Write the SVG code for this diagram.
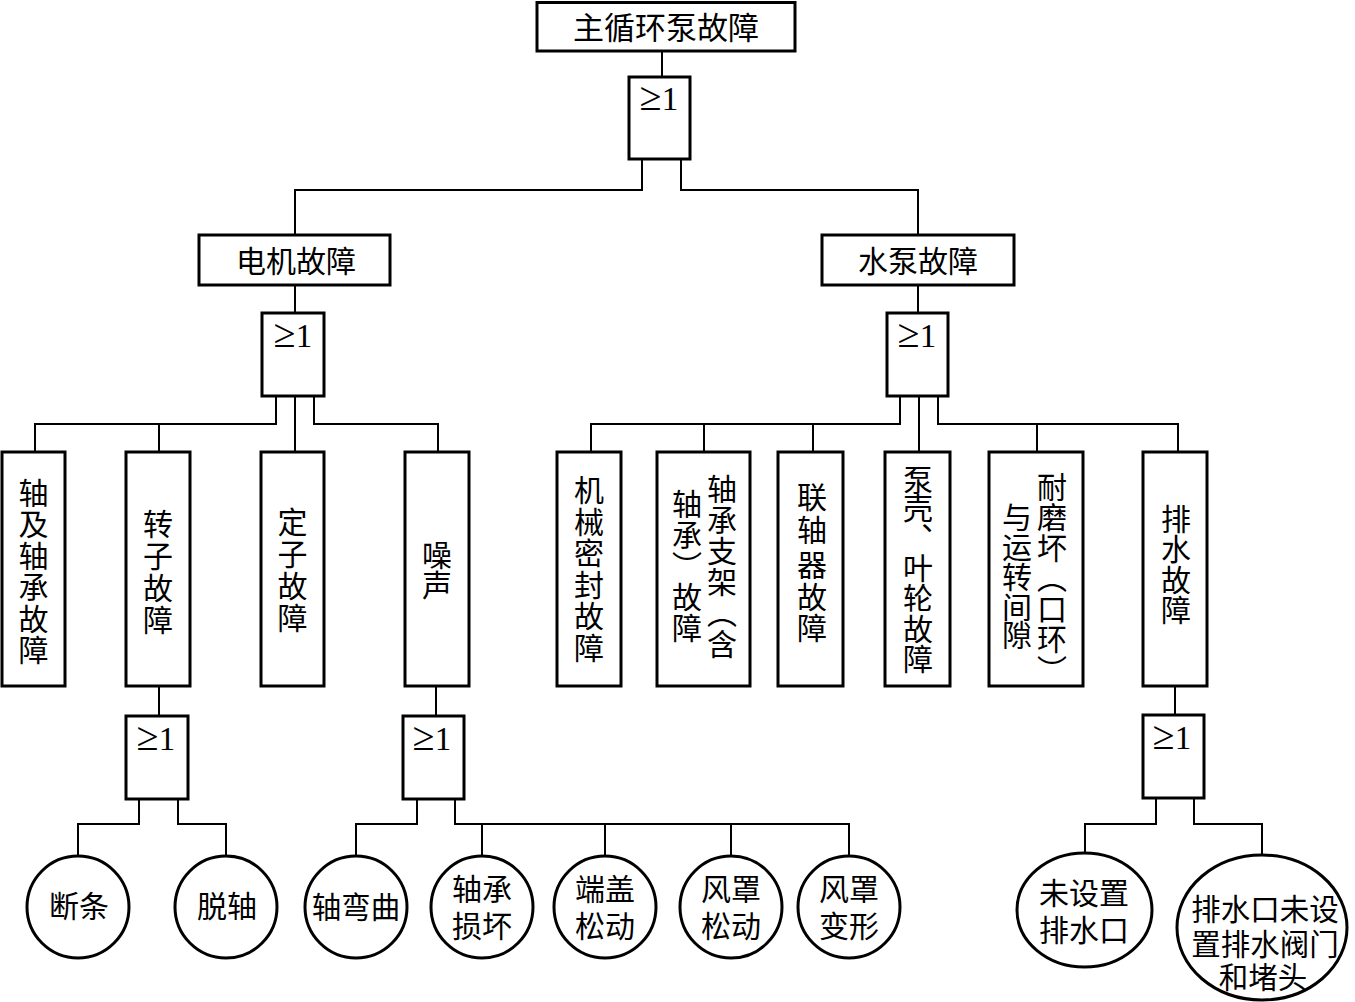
<svg xmlns="http://www.w3.org/2000/svg" width="1355" height="1002" viewBox="0 0 1355 1002">
<style>
.bx{fill:#fff;stroke:#000;stroke-width:3}
.gt{fill:#fff;stroke:#000;stroke-width:3}
.cn{fill:none;stroke:#000;stroke-width:2}
.t{font-family:"Noto Sans CJK SC","Noto Sans CJK TC",sans-serif;font-size:30px;fill:#000;text-anchor:middle}
.v{font-family:"Noto Sans CJK SC","Noto Sans CJK TC",sans-serif;font-size:30px;fill:#000;text-anchor:start;writing-mode:vertical-rl}
.g{font-family:"Liberation Serif","DejaVu Serif",serif;font-size:33px;fill:#000;text-anchor:middle}
.ge{font-size:40px}
</style>
<rect width="1355" height="1002" fill="#fff"/>
<g id="connectors">
<path class="cn" d="M662 51V77"/>
<path class="cn" d="M642 159V190H295V235"/>
<path class="cn" d="M681 159V190H918V235"/>
<path class="cn" d="M295 285V313"/>
<path class="cn" d="M276 396V424H35V452M159 424V452"/>
<path class="cn" d="M295 396V452"/>
<path class="cn" d="M314 396V424H438V452"/>
<path class="cn" d="M918 285V313"/>
<path class="cn" d="M900 396V424H591V452M704 424V452M813 424V452"/>
<path class="cn" d="M919 396V452"/>
<path class="cn" d="M938 396V424H1178V452M1037 424V452"/>
<path class="cn" d="M159 686V716"/>
<path class="cn" d="M139 799V824H78V856"/>
<path class="cn" d="M178 799V824H226V856"/>
<path class="cn" d="M436 686V716"/>
<path class="cn" d="M417 799V824H356V856"/>
<path class="cn" d="M455 799V824H849V856M482 824V856M605 824V856M731 824V856"/>
<path class="cn" d="M1175 686V715"/>
<path class="cn" d="M1156 798V824H1085V853"/>
<path class="cn" d="M1194 798V824H1262V855"/>
</g>
<g id="n_top"><rect class="bx" x="537" y="2.5" width="258" height="48.5"/><text class="t" x="666" y="39" style="font-size:31px">主循环泵故障</text></g>
<g id="g_top"><rect class="gt" x="629" y="77" width="61" height="82"/><text class="g" x="659" y="110"><tspan class="ge">≥</tspan>1</text></g>
<g id="n_motor"><rect class="bx" x="199" y="235" width="191" height="50"/><text class="t" x="296" y="272">电机故障</text></g>
<g id="n_pump"><rect class="bx" x="822" y="235" width="192" height="50"/><text class="t" x="918" y="272">水泵故障</text></g>
<g id="g_motor"><rect class="gt" x="262" y="313" width="62" height="83"/><text class="g" x="293" y="347"><tspan class="ge">≥</tspan>1</text></g>
<g id="g_pump"><rect class="gt" x="887" y="313" width="61" height="83"/><text class="g" x="917" y="347"><tspan class="ge">≥</tspan>1</text></g>
<g id="n_shaft"><rect class="bx" x="2" y="452" width="63" height="234"/><text class="v" x="33.5"><tspan y="478">轴</tspan><tspan y="509">及</tspan><tspan y="541">轴</tspan><tspan y="572">承</tspan><tspan y="604">故</tspan><tspan y="635">障</tspan></text></g>
<g id="n_rotor"><rect class="bx" x="126" y="452" width="64" height="234"/><text class="v" x="158"><tspan y="509">转</tspan><tspan y="541">子</tspan><tspan y="573">故</tspan><tspan y="605">障</tspan></text></g>
<g id="n_stator"><rect class="bx" x="261" y="452" width="63" height="234"/><text class="v" x="292.5"><tspan y="507">定</tspan><tspan y="539">子</tspan><tspan y="571">故</tspan><tspan y="603">障</tspan></text></g>
<g id="n_noise"><rect class="bx" x="405" y="452" width="64" height="234"/><text class="v" x="437"><tspan y="540">噪</tspan><tspan y="570">声</tspan></text></g>
<g id="n_seal"><rect class="bx" x="557" y="452" width="64" height="234"/><text class="v" x="589"><tspan y="475">机</tspan><tspan y="507">械</tspan><tspan y="538">密</tspan><tspan y="570">封</tspan><tspan y="601">故</tspan><tspan y="633">障</tspan></text></g>
<g id="n_bracket"><rect class="bx" x="657" y="452" width="93" height="234"/><text class="v" x="722"><tspan y="474">轴</tspan><tspan y="505">承</tspan><tspan y="536">支</tspan><tspan y="567">架</tspan><tspan y="598">（</tspan><tspan y="629">含</tspan></text><text class="v" x="687"><tspan y="489">轴</tspan><tspan y="520">承</tspan><tspan y="551">）</tspan><tspan y="582">故</tspan><tspan y="613">障</tspan></text></g>
<g id="n_coupling"><rect class="bx" x="778" y="452" width="65" height="234"/><text class="v" x="812"><tspan y="482">联</tspan><tspan y="515">轴</tspan><tspan y="550">器</tspan><tspan y="582">故</tspan><tspan y="613">障</tspan></text></g>
<g id="n_casing"><rect class="bx" x="885" y="452" width="65" height="234"/><text class="v" x="918"><tspan y="465">泵</tspan><tspan y="493">壳</tspan><tspan y="523">、</tspan><tspan y="553">叶</tspan><tspan y="583">轮</tspan><tspan y="614">故</tspan><tspan y="644">障</tspan></text></g>
<g id="n_ring"><rect class="bx" x="989" y="452" width="94" height="234"/><text class="v" x="1052"><tspan y="472">耐</tspan><tspan y="502">磨</tspan><tspan y="533">坏</tspan><tspan y="563">（</tspan><tspan y="594">口</tspan><tspan y="624">环</tspan><tspan y="655">）</tspan></text><text class="v" x="1017"><tspan y="502">与</tspan><tspan y="532">运</tspan><tspan y="562">转</tspan><tspan y="592">间</tspan><tspan y="620">隙</tspan></text></g>
<g id="n_drain"><rect class="bx" x="1143" y="452" width="64" height="234"/><text class="v" x="1176"><tspan y="504">排</tspan><tspan y="534">水</tspan><tspan y="565">故</tspan><tspan y="595">障</tspan></text></g>
<g id="g_rotor"><rect class="gt" x="126" y="716" width="62" height="83"/><text class="g" x="156" y="750"><tspan class="ge">≥</tspan>1</text></g>
<g id="g_noise"><rect class="gt" x="403" y="716" width="61" height="83"/><text class="g" x="432" y="750"><tspan class="ge">≥</tspan>1</text></g>
<g id="g_drain"><rect class="gt" x="1143" y="715" width="61" height="83"/><text class="g" x="1172" y="749"><tspan class="ge">≥</tspan>1</text></g>
<g id="e_break"><circle class="bx" cx="78" cy="907" r="51"/><text class="t" x="79" y="917">断条</text></g>
<g id="e_off"><circle class="bx" cx="226" cy="907" r="51"/><text class="t" x="227" y="917">脱轴</text></g>
<g id="e_bend"><circle class="bx" cx="356" cy="907" r="51"/><text class="t" x="356" y="918" style="font-size:29.5px">轴弯曲</text></g>
<g id="e_bearing"><circle class="bx" cx="482" cy="907" r="51"/><text class="t"><tspan x="482" y="900">轴承</tspan><tspan x="482" y="937">损坏</tspan></text></g>
<g id="e_cover"><circle class="bx" cx="605" cy="907" r="51"/><text class="t"><tspan x="605" y="900">端盖</tspan><tspan x="605" y="937">松动</tspan></text></g>
<g id="e_hoodloose"><circle class="bx" cx="731" cy="907" r="51"/><text class="t"><tspan x="731" y="900">风罩</tspan><tspan x="731" y="937">松动</tspan></text></g>
<g id="e_hooddeform"><circle class="bx" cx="849" cy="907" r="51"/><text class="t"><tspan x="849" y="900">风罩</tspan><tspan x="849" y="937">变形</tspan></text></g>
<g id="e_nooutlet"><ellipse class="bx" cx="1084.5" cy="910" rx="67.5" ry="57"/><text class="t"><tspan x="1084" y="904">未设置</tspan><tspan x="1084" y="941">排水口</tspan></text></g>
<g id="e_novalve"><ellipse class="bx" cx="1262" cy="927.5" rx="85" ry="72.5"/><text class="t" style="font-size:29.5px"><tspan x="1265" y="920">排水口未设</tspan><tspan x="1265" y="955">置排水阀门</tspan><tspan x="1263" y="988">和堵头</tspan></text></g>
</svg>
